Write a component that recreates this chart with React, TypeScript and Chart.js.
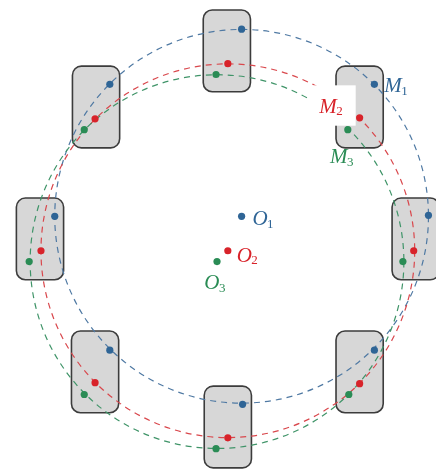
import { useEffect, useRef } from 'react';
import { Chart, registerables } from 'chart.js';

Chart.register(...registerables);

// Rounded rectangles (holders) – centres
const rectX = [227, 362, 419, 362, 228, 93, 37, 94];
const rectY = [48, 105, 239, 374, 430, 374, 239, 105];

// Points on the three circles
const blueX = [242, 377, 432, 377, 243, 108, 52, 108];
const blueY = [26, 82, 215, 352, 407, 352, 216, 82];
const redX = [228, 362, 417, 362, 228, 93, 38, 93];
const redY = [61, 116, 251, 386, 441, 385, 251, 117];
const greenX = [216, 350, 406, 351, 216, 82, 26, 82];
const greenY = [72, 128, 262, 397, 452, 397, 262, 128];

// Circle centres O1, O2, O3 and radii
const centerX = [242, 228, 217];
const centerY = [216, 251, 262];
const radii = [190, 190, 190];

// Labels
const labelMain = ['O', 'O', 'O', 'M', 'M', 'M'];
const labelSub = ['1', '2', '3', '1', '2', '3'];
const labelX = [253, 237, 204, 387, 321, 332];
const labelY = [225, 262, 290, 90, 111, 162];

const COLORS = ['#2f6596', '#d8232a', '#2a8c55'];
const DASH_COLORS = ['#4f79a3', '#d9474c', '#3f9468'];
const RECT_W = 48;
const RECT_H = 83;

export default function App() {
  const ref = useRef<HTMLCanvasElement>(null);

  useEffect(() => {
    document.body.style.margin = '0';
    const pts = (xs: number[], ys: number[]) => xs.map((x, i) => ({ x, y: ys[i] }));

    const drawPlugin = {
      id: 'geom',
      beforeDatasetsDraw(chart: any) {
        const { ctx, scales } = chart;
        const sx = scales.x;
        const sy = scales.y;
        const ux = (v: number) => sx.getPixelForValue(v);
        const uy = (v: number) => sy.getPixelForValue(v);
        const wpx = Math.abs(ux(RECT_W) - ux(0));
        const hpx = Math.abs(uy(RECT_H) - uy(0));
        ctx.save();
        rectX.forEach((x, i) => {
          const px = ux(x);
          const py = uy(rectY[i]);
          ctx.beginPath();
          ctx.roundRect(px - wpx / 2, py - hpx / 2, wpx, hpx, 9);
          ctx.fillStyle = '#d7d7d7';
          ctx.fill();
          ctx.lineWidth = 1.6;
          ctx.strokeStyle = '#3c3c3c';
          ctx.stroke();
        });
        centerX.forEach((cx, i) => {
          const px = ux(cx);
          const py = uy(centerY[i]);
          const r = Math.abs(ux(radii[i]) - ux(0));
          ctx.beginPath();
          ctx.arc(px, py, r, 0, Math.PI * 2);
          ctx.setLineDash([6, 5]);
          ctx.lineWidth = 1.2;
          ctx.strokeStyle = DASH_COLORS[i];
          ctx.stroke();
        });
        ctx.setLineDash([]);
        ctx.restore();
      },
      afterDatasetsDraw(chart: any) {
        const { ctx, scales } = chart;
        const ux = (v: number) => scales.x.getPixelForValue(v);
        const uy = (v: number) => scales.y.getPixelForValue(v);
        ctx.save();
        // white background behind M2 label
        ctx.fillStyle = '#ffffff';
        ctx.fillRect(ux(312), uy(83), ux(358) - ux(312), uy(124) - uy(83));
        labelMain.forEach((t, i) => {
          const color = COLORS[i % 3];
          const px = ux(labelX[i]);
          const py = uy(labelY[i]);
          ctx.fillStyle = color;
          ctx.textBaseline = 'alphabetic';
          ctx.textAlign = 'left';
          ctx.font = 'italic 21px "Liberation Serif", serif';
          ctx.fillText(t, px, py);
          const w = ctx.measureText(t).width;
          ctx.font = '13px "Liberation Serif", serif';
          ctx.fillText(labelSub[i], px + w - 0.5, py + 2.5);
        });
        ctx.restore();
      },
    };

    const chart = new Chart(ref.current!, {
      type: 'scatter',
      data: {
        datasets: [
          { data: pts(blueX, blueY), backgroundColor: COLORS[0] },
          { data: pts(redX, redY), backgroundColor: COLORS[1] },
          { data: pts(greenX, greenY), backgroundColor: COLORS[2] },
          { data: pts(centerX, centerY), backgroundColor: COLORS },
        ],
      },
      options: {
        animation: false,
        responsive: false,
        maintainAspectRatio: false,
        layout: { padding: 0 },
        elements: { point: { radius: 3.6, borderWidth: 0, hoverRadius: 3.6 } },
        plugins: { legend: { display: false }, tooltip: { enabled: false } },
        scales: {
          x: { type: 'linear', min: 0, max: 436, display: false },
          y: { type: 'linear', min: 0, max: 470, reverse: true, display: false },
        },
      },
      plugins: [drawPlugin],
    });
    return () => chart.destroy();
  }, []);

  return (
    <div style={{ width: 436, height: 470 }}>
      <canvas ref={ref} width={436} height={470} style={{ display: 'block' }} />
    </div>
  );
}
